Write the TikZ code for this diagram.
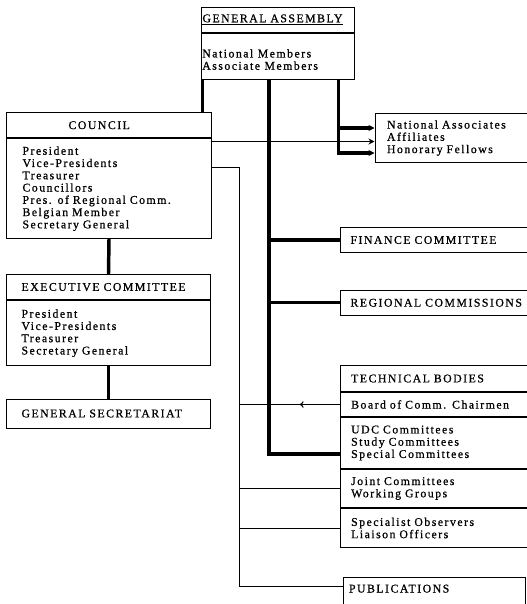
\documentclass[tikz,border=0pt]{standalone}
\usepackage{fontspec}
\newfontfamily\typefont[LetterSpace=12.6,FakeBold=0.8]{Liberation Serif}
\usetikzlibrary{arrows.meta}
\usetikzlibrary{decorations.markings}
\usetikzlibrary{positioning}

\tikzset{
  row/.style={draw, line width=0.75pt, anchor=north west, inner ysep=0pt, align=left},
  heavy/.style={line width=2.6pt},
  light/.style={line width=0.75pt},
  tip/.style={-{Stealth[length=4.5pt,width=4.5pt]}},
}

\begin{document}
\begin{tikzpicture}[x=0.75pt,y=0.75pt,yscale=-1,xscale=1,
  every node/.style={font=\typefont\fontsize{8.85}{9.2}\selectfont}]
\useasboundingbox (0,0) rectangle (527,604);
\clip (0,0) rectangle (527,604);

%General Assembly
\node[row, minimum width=115.1pt, minimum height=19.1pt, text width=112.9pt, inner xsep=1.1pt] (gatitle) at (200.5,6.5) {\underline{GENERAL ASSEMBLY}};
\node[row, minimum width=115.1pt, minimum height=34.5pt, inner xsep=0pt] (gaitems) at (gatitle.south west) {};
\node[anchor=north west, inner sep=0pt, align=left] (gamembers) at (202,49) {National Members\\Associate Members};

%Council
\node[row, minimum width=153.75pt, minimum height=19.1pt, text width=60.75pt, inner xsep=46.5pt] (counciltitle) at (6,112) {COUNCIL};
\node[row, minimum width=153.75pt, minimum height=74.6pt, text width=129.75pt, inner xsep=12pt] (councilitems) at (counciltitle.south west) {President\\Vice-Presidents\\Treasurer\\Councillors\\Pres. of Regional Comm.\\Belgian Member\\Secretary General};

%Executive Committee
\node[row, minimum width=153pt, minimum height=18.75pt, text width=130.5pt, inner xsep=11.25pt] (exectitle) at (6,274) {EXECUTIVE COMMITTEE};
\node[row, minimum width=153pt, minimum height=49.1pt, text width=130.5pt, inner xsep=11.25pt] (execitems) at (exectitle.south west) {President\\Vice-Presidents\\Treasurer\\Secretary General};

%General Secretariat
\node[row, minimum width=153pt, minimum height=21.75pt, text width=130.5pt, inner xsep=11.25pt] (gensec) at (6,398.5) {GENERAL SECRETARIAT};

%right hand boxes
\node[row, minimum width=139pt, minimum height=36.75pt, text width=121pt, inner xsep=9pt] (natassoc) at (374.5,113) {National Associates\\Affiliates\\Honorary Fellows};
\node[row, minimum width=165pt, minimum height=18.75pt, text width=150pt, inner xsep=7.5pt] (finance) at (340,227) {FINANCE COMMITTEE};
\node[row, minimum width=165pt, minimum height=19.1pt, text width=150pt, inner xsep=7.5pt] (regional) at (340,289.5) {REGIONAL COMMISSIONS};

%Technical Bodies
\node[row, minimum width=165pt, minimum height=19.5pt, text width=149pt, inner xsep=8pt] (tbtitle) at (340,365) {TECHNICAL BODIES};
\node[row, minimum width=165pt, minimum height=18pt, text width=149pt, inner xsep=8pt] (tbboard) at (tbtitle.south west) {Board of Comm. Chairmen};
\node[row, minimum width=165pt, minimum height=38.25pt, text width=149pt, inner xsep=8pt] (tbudc) at (tbboard.south west) {UDC Committees\\Study Committees\\Special Committees};
\node[row, minimum width=165pt, minimum height=28.5pt, text width=149pt, inner xsep=8pt] (tbjoint) at (tbudc.south west) {Joint Committees\\Working Groups};
\node[row, minimum width=165pt, minimum height=29.25pt, text width=149pt, inner xsep=8pt] (tbspec) at (tbjoint.south west) {Specialist Observers\\Liaison Officers};

%Publications
\node[row, minimum width=136.9pt, text width=127.9pt, inner xsep=4.5pt, text height=11.25pt, text depth=21pt] (pub) at (342.5,577) {PUBLICATIONS};

%bend points
\coordinate (trunk) at (269,454);
\coordinate (fork) at (338.5,153);
\coordinate (forktop) at (338.5,128);
\coordinate (affil) at (211,141.5);
\coordinate (rail) at (239,167);
\coordinate (railend) at (239,586);

%thin lines
\draw[light] (rail -| councilitems.east) -- (rail) -- (railend) -- (railend -| pub.west);
\draw[light, tip] (affil) -- (affil -| natassoc.west);
\draw[light, postaction={decorate}, decoration={markings, mark=at position 0.4 with {\arrow{To[length=3pt,width=5pt]}}}] (tbboard.west) -- (tbboard.west -| rail);
\draw[light] (tbjoint.west) -- (tbjoint.west -| rail);
\draw[light] (tbspec.west) -- (tbspec.west -| rail);

%thick lines
\draw[heavy] ([xshift=1.5pt]gaitems.south west) -- ([xshift=1.5pt]gaitems.south west |- counciltitle.north);
\draw[heavy] (gaitems.south -| trunk) -- (trunk) -- (trunk -| tbudc.west);
\draw[heavy] (trunk |- finance.west) -- (finance.west);
\draw[heavy] (trunk |- regional.west) -- (regional.west);
\draw[heavy, tip] (gaitems.south -| fork) -- (fork) -- (fork -| natassoc.west);
\draw[heavy, tip] (forktop) -- (forktop -| natassoc.west);
\draw[heavy] (councilitems.south) -- (exectitle.north);
\draw[heavy] (execitems.south) -- (gensec.north);

\end{tikzpicture}
\end{document}
